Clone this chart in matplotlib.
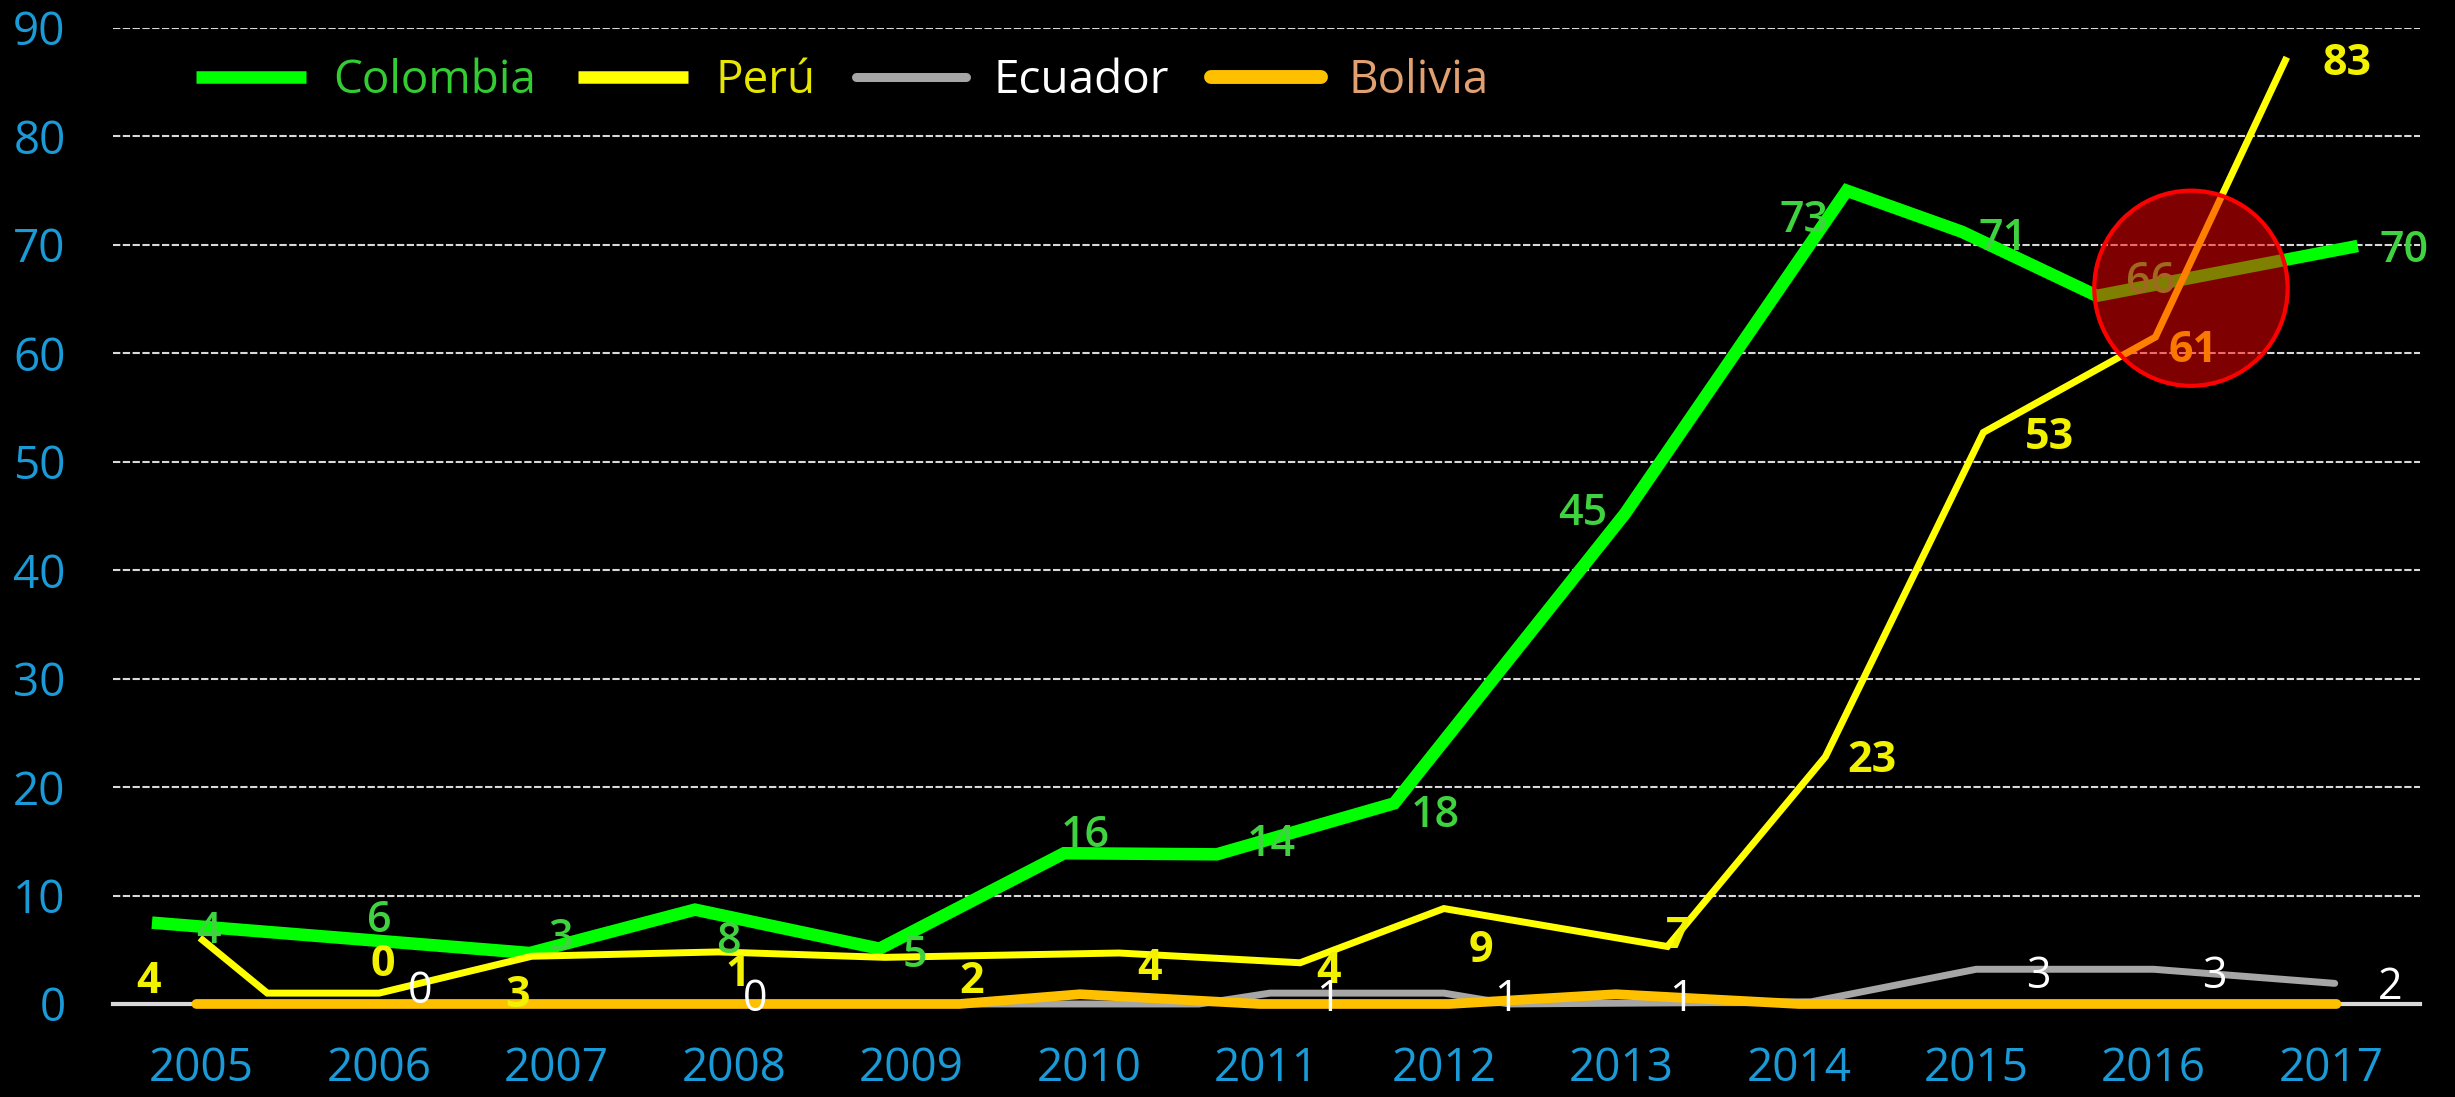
import matplotlib
matplotlib.use('Agg')
import matplotlib.pyplot as plt
from matplotlib.lines import Line2D
from matplotlib.patches import Ellipse

plt.rcParams['font.family'] = ['Open Sans', 'DejaVu Sans']

years = [2005, 2006, 2007, 2008, 2009, 2010, 2011, 2012, 2013, 2014, 2015, 2016, 2017]
year_labels = ['2005', '2006', '2007', '2008', '2009', '2010', '2011', '2012', '2013', '2014', '2015', '2016', '2017']

# value labels shown on the chart
colombia = [4, 6, 3, 8, 5, 16, 14, 18, 45, 73, 71, 66, 70]
peru = [4, 0, 3, 1, 2, 4, 4, 9, 7, 23, 53, 61, 83]
ecuador = [0, 0, 0, 0, 0, 0, 1, 1, 1, 0, 3, 3, 2]

# the drawn lines (they do not sit on the labels)
col_x = [2004.72, 2006.85, 2007.78, 2008.82, 2009.86, 2010.72, 2011.72, 2013.02, 2014.27, 2014.92, 2015.68, 2017.15]
col_y = [7.5, 4.7, 8.7, 5.1, 13.9, 13.8, 18.5, 45.2, 75.0, 71.2, 65.3, 69.9]
peru_x = [2004.99, 2005.37, 2006.00, 2006.86, 2007.91, 2008.85, 2010.17, 2011.19, 2012.00, 2013.26, 2014.15, 2015.04, 2016.01, 2016.75]
peru_y = [6.1, 1.0, 1.0, 4.4, 4.8, 4.3, 4.7, 3.8, 8.8, 5.3, 22.8, 52.7, 61.5, 87.3]
ecu_x = [2004.97, 2010.62, 2011.02, 2012.00, 2012.37, 2014.07, 2015.00, 2016.00, 2017.02]
ecu_y = [0, 0, 1, 1, 0, 0.2, 3.2, 3.2, 1.9]
bol_x = [2004.97, 2009.27, 2009.95, 2010.96, 2012.03, 2012.97, 2014.00, 2017.03]
bol_y = [0, 0, 0.9, 0, 0, 0.9, 0, 0]

# where the value labels sit
col_dx = [0.04, 0.0, 0.02, -0.03, 0.02, -0.02, 0.03, -0.05, -0.22, 0.03, 0.15, -0.02, 0.41]
col_ly = [7.0, 8.0, 6.4, 6.1, 4.8, 15.9, 15.1, 17.7, 45.6, 72.6, 70.9, 67.0, 69.8]
peru_dx = [-0.30, 0.02, -0.22, 0.02, 0.34, 0.34, 0.35, 0.21, 0.32, 0.41, 0.41, 0.22, 0.09]
peru_ly = [2.4, 4.0, 1.1, 3.1, 2.4, 3.6, 3.3, 5.3, 6.6, 22.8, 52.6, 60.6, 87.1]
ecu_dx = [0.35, 0.23, 0.35, 0.12, 0.34, 0.34, 0.35, 0.35, 0.34, 0.35, 0.35, 0.34, 0.33]
ecu_ly = [-0.3, 1.5, -0.3, 0.8, -0.3, -0.3, 0.8, 0.8, 0.8, -0.4, 2.9, 2.9, 1.9]

fig = plt.figure(figsize=(24.55, 10.97), dpi=100, facecolor='black')
ax = fig.add_axes([0.046, 0.0848, 0.9397, 0.8897])
ax.set_facecolor('black')

ax.plot(ecu_x, ecu_y, color='#a6a6a6', lw=5, solid_joinstyle='round', solid_capstyle='round', clip_on=False, zorder=3)
ax.plot(bol_x, bol_y, color='#ffc000', lw=7, solid_joinstyle='round', solid_capstyle='round', clip_on=False, zorder=3.1)
ax.plot(col_x, col_y, color='#00ff00', lw=9, solid_joinstyle='miter', solid_capstyle='butt', clip_on=False, zorder=3.2)
ax.plot(peru_x, peru_y, color='#ffff00', lw=5, solid_joinstyle='miter', solid_capstyle='butt', clip_on=False, zorder=3.3)

for i, yr in enumerate(years):
    ax.annotate(str(colombia[i]), (yr + col_dx[i], col_ly[i]), xytext=(0, -11), textcoords='offset points',
                ha='center', va='baseline', color='#3fd43f', fontsize=31, fontweight='semibold', zorder=5)
    ax.annotate(str(peru[i]), (yr + peru_dx[i], peru_ly[i]), xytext=(0, -11), textcoords='offset points',
                ha='center', va='baseline', color='#f2f200', fontsize=31, fontweight='bold', zorder=5)
    ax.annotate(str(ecuador[i]), (yr + ecu_dx[i], ecu_ly[i]), xytext=(0, -11), textcoords='offset points',
                ha='center', va='baseline', color='white', fontsize=31, zorder=5)

# highlight around Colombia / Peru in 2016
ax.add_patch(Ellipse((years[11] + 0.21, colombia[11]), 1.09, 18.0,
                     facecolor=(1, 0, 0, 0.5), edgecolor='#ff0000', lw=3, zorder=10))

ax.set_xlim(2004.5, 2017.5)
ax.set_ylim(0, 90)
ax.set_yticks(range(0, 91, 10))
ax.set_xticks(years, year_labels)
ax.grid(axis='y', color='#d9d9d9', linestyle=(0, (3.5, 1.2)), linewidth=1.5)
ax.set_axisbelow(True)
ax.tick_params(axis='both', length=0, labelsize=33, labelcolor='#1a9ad6')
ax.tick_params(axis='y', pad=34)
ax.tick_params(axis='x', pad=30)
for s in ['left', 'right', 'top']:
    ax.spines[s].set_visible(False)
ax.spines['bottom'].set_color('#d9d9d9')
ax.spines['bottom'].set_linewidth(3)

handles = [
    Line2D([], [], color='#00ff00', lw=9, solid_capstyle='butt'),
    Line2D([], [], color='#ffff00', lw=9, solid_capstyle='butt'),
    Line2D([], [], color='#a6a6a6', lw=6.5, solid_capstyle='round'),
    Line2D([], [], color='#ffc000', lw=10, solid_capstyle='round'),
]
ax.legend(handles, ['Colombia', 'Perú', 'Ecuador', 'Bolivia'], ncol=4, loc='center left',
          bbox_to_anchor=(0.036, 0.946), frameon=False, fontsize=33, handlelength=2.4,
          handletextpad=0.6, columnspacing=0.9, borderpad=0, borderaxespad=0,
          labelcolor=['#33cc33', '#e6e600', 'white', '#e0a070'])

fig.savefig('out.png', dpi=100, facecolor='black')
